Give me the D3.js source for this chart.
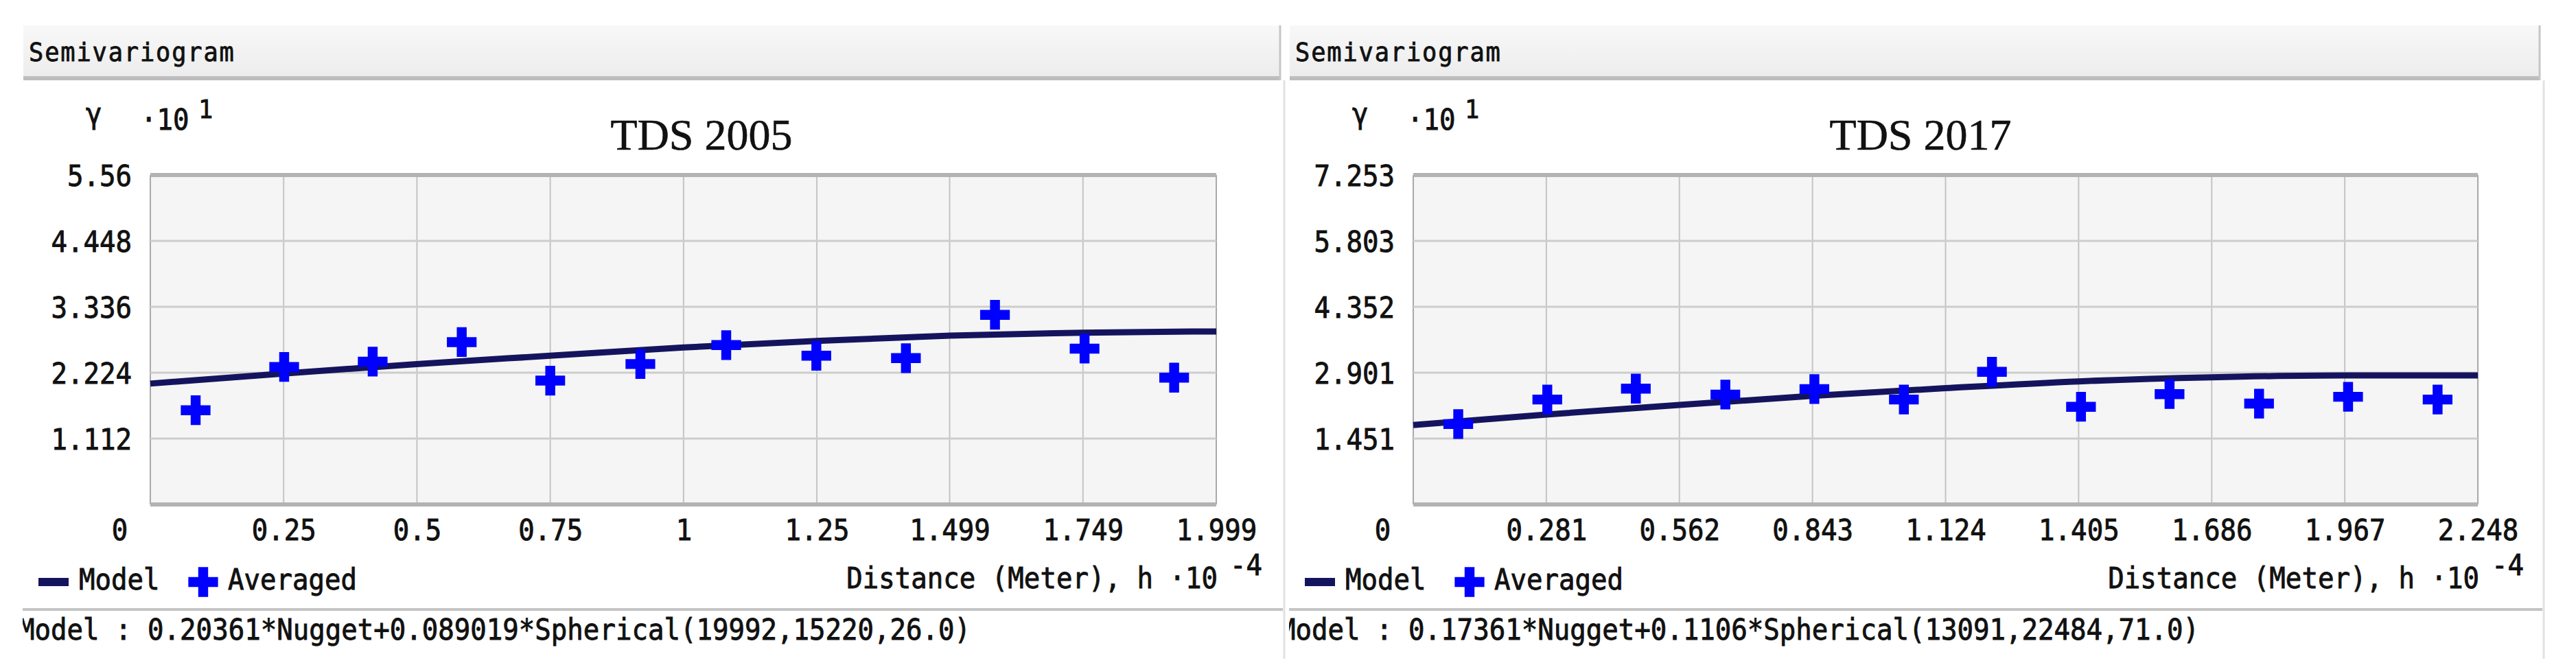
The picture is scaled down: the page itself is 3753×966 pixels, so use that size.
<!DOCTYPE html>
<html>
<head>
<meta charset="utf-8">
<script src="https://cdn.jsdelivr.net/npm/d3@7"></script>
<style>
  body { margin: 0; background: #fff; }
  svg { display: block; }
</style>
</head>
<body>
<div id="chart"></div>
<script>
const W = 3753, H = 966;
const mono = '"DejaVu Sans Mono", monospace';
const fontSize = 42, squeeze = 0.93; // tall narrow glyphs like the original bitmap font

// ---- data (distances in 10^4 m, gamma in 10^1) ----
const titles = ['TDS 2005', 'TDS 2017'];
const models = ['Model : 0.20361*Nugget+0.089019*Spherical(19992,15220,26.0)',
                'Model : 0.17361*Nugget+0.1106*Spherical(13091,22484,71.0)'];

const xTicks2005 = [0, 0.25, 0.5, 0.75, 1, 1.25, 1.499, 1.749, 1.999];
const yTicks2005 = [0, 1.112, 2.224, 3.336, 4.448, 5.56];
const lag2005 = [0.085, 0.251, 0.417, 0.584, 0.75, 0.919, 1.08, 1.249, 1.417, 1.584, 1.752, 1.92];
const avg2005 = [1.59, 2.32, 2.41, 2.74, 2.09, 2.37, 2.69, 2.51, 2.47, 3.2, 2.63, 2.14];
const modelH2005 = [0, 0.25, 0.5, 0.75, 1, 1.25, 1.5, 1.75, 1.999];
const model2005 = [2.04, 2.21, 2.37, 2.51, 2.65, 2.76, 2.85, 2.9, 2.92];

const xTicks2017 = [0, 0.281, 0.562, 0.843, 1.124, 1.405, 1.686, 1.967, 2.248];
const yTicks2017 = [0, 1.451, 2.901, 4.352, 5.803, 7.253];
const lag2017 = [0.095, 0.283, 0.47, 0.659, 0.847, 1.036, 1.222, 1.41, 1.597, 1.786, 1.974, 2.163];
const avg2017 = [1.77, 2.31, 2.55, 2.42, 2.54, 2.31, 2.92, 2.15, 2.43, 2.22, 2.37, 2.31];
const modelH2017 = [0, 0.281, 0.562, 0.843, 1.124, 1.405, 1.686, 1.967, 2.248];
const model2017 = [1.75, 1.98, 2.19, 2.39, 2.56, 2.71, 2.8, 2.84, 2.84];

// ---- layout of the two window panels ----
const plotTop = 255, plotBottom = 735;
const panels = [
  { x: 33, right: 1873, plotL: 219, plotR: 1772, titleX: 1022, footX: -6,
    title: titles[0], model: models[0], xTicks: xTicks2005, yTicks: yTicks2005,
    lag: lag2005, avg: avg2005, modelH: modelH2005, modelV: model2005 },
  { x: 1878, right: 3708, plotL: 2059, plotR: 3610, titleX: 2798, footX: -14,
    title: titles[1], model: models[1], xTicks: xTicks2017, yTicks: yTicks2017,
    lag: lag2017, avg: avg2017, modelH: modelH2017, modelV: model2017 }
];

const svg = d3.select('#chart').append('svg')
  .attr('width', W).attr('height', H)
  .attr('viewBox', '0 0 ' + W + ' ' + H);
svg.append('rect').attr('width', W).attr('height', H).attr('fill', '#fff');

const defs = svg.append('defs');
let grad = defs.append('linearGradient').attr('id', 'hdr')
  .attr('x1', 0).attr('y1', 0).attr('x2', 0).attr('y2', 1);
grad.append('stop').attr('offset', '0%').attr('stop-color', '#f8f8f8');
grad.append('stop').attr('offset', '100%').attr('stop-color', '#ececec');

// monospaced text, a little heavier than the plain face
function monoText(g, x, y, str, size) {
  return g.append('text')
    .attr('transform', 'translate(' + x + ',' + y + ') scale(' + squeeze + ',1)')
    .attr('font-family', mono)
    .attr('font-size', size || fontSize)
    .attr('fill', '#111')
    .attr('stroke', '#111')
    .attr('stroke-width', 0.9)
    .text(str);
}

function drawPanel(p, i) {
  defs.append('clipPath').attr('id', 'clip' + i)
    .append('rect').attr('x', p.x).attr('y', 0).attr('width', p.right - p.x).attr('height', H);
  const g = svg.append('g').attr('clip-path', 'url(#clip' + i + ')');

  // window frame: header bar and right border
  g.append('rect').attr('x', p.x + 1).attr('y', 37)
    .attr('width', p.right - p.x - 8).attr('height', 78)
    .attr('fill', 'url(#hdr)');
  g.append('line').attr('x1', p.x + 1).attr('x2', p.right - 7)
    .attr('y1', 114).attr('y2', 114)
    .attr('stroke', '#bdbdbd').attr('stroke-width', 6);
  g.append('line').attr('x1', p.right - 8).attr('x2', p.right - 8)
    .attr('y1', 37).attr('y2', 117)
    .attr('stroke', '#c6c6c6').attr('stroke-width', 3);
  g.append('line').attr('x1', p.right - 2).attr('x2', p.right - 2)
    .attr('y1', 117).attr('y2', 960)
    .attr('stroke', '#e2e2e2').attr('stroke-width', 3);
  monoText(g, p.x + 9, 89, 'Semivariogram', 38).attr('letter-spacing', 2);

  // title and y unit
  g.append('text')
    .attr('x', p.titleX).attr('y', 218)
    .attr('text-anchor', 'middle')
    .attr('font-family', '"Liberation Serif", serif')
    .attr('font-size', 64)
    .attr('fill', '#111')
    .attr('stroke', '#111')
    .attr('stroke-width', 0.6)
    .text(p.title);
  monoText(g, p.x + 92, 180, 'γ');
  monoText(g, p.x + 172, 189, '·10');
  monoText(g, p.x + 256, 172, '1', 38);

  const x = d3.scaleLinear().domain([0, d3.max(p.xTicks)]).range([p.plotL, p.plotR]);
  const y = d3.scaleLinear().domain([0, d3.max(p.yTicks)]).range([plotBottom, plotTop]);

  // plot area with grid
  g.append('rect').attr('x', p.plotL).attr('y', plotTop)
    .attr('width', p.plotR - p.plotL).attr('height', plotBottom - plotTop)
    .attr('fill', '#f5f5f5');
  g.append('g').selectAll('line').data(p.xTicks).join('line')
    .attr('x1', d => x(d)).attr('x2', d => x(d))
    .attr('y1', plotTop).attr('y2', plotBottom)
    .attr('stroke', (d, j) => (j === 0 || j === p.xTicks.length - 1) ? '#a9a9a9' : '#c4c4c4')
    .attr('stroke-width', 2);
  g.append('g').selectAll('line').data(p.yTicks).join('line')
    .attr('x1', p.plotL).attr('x2', p.plotR)
    .attr('y1', d => y(d)).attr('y2', d => y(d))
    .attr('stroke', (d, j) => (j === 0 || j === p.yTicks.length - 1) ? '#b3b3b3' : '#cdcdcd')
    .attr('stroke-width', (d, j) => (j === 0 || j === p.yTicks.length - 1) ? 6 : 3);

  // axes labels
  const yAxis = g.append('g').attr('transform', 'translate(' + p.plotL + ',0)')
    .call(d3.axisLeft(y).tickValues(p.yTicks.slice(1)).tickFormat(d => String(d))
      .tickSize(0).tickPadding(27 / squeeze));
  const xAxis = g.append('g').attr('transform', 'translate(0,' + plotBottom + ')')
    .call(d3.axisBottom(x).tickValues(p.xTicks).tickFormat(d => String(d))
      .tickSize(0).tickPadding(22));
  [yAxis, xAxis].forEach(a => {
    a.select('.domain').remove();
    a.selectAll('text')
      .attr('font-family', mono).attr('font-size', fontSize)
      .attr('fill', '#111').attr('stroke', '#111').attr('stroke-width', 0.9)
      .attr('transform', 'scale(' + squeeze + ',1)');
  });
  yAxis.selectAll('text').attr('dy', '0.36em');
  xAxis.selectAll('.tick').filter(d => d === 0).select('text').attr('dx', -45 / squeeze);

  // model curve and averaged points
  const line = d3.line().x(d => x(d[0])).y(d => y(d[1])).curve(d3.curveMonotoneX);
  g.append('path')
    .datum(d3.zip(p.modelH, p.modelV))
    .attr('d', line)
    .attr('fill', 'none')
    .attr('stroke', '#14145e')
    .attr('stroke-width', 9);
  const cross = d3.symbol(d3.symbolCross, 1040);
  g.append('g').selectAll('path').data(d3.zip(p.lag, p.avg)).join('path')
    .attr('d', cross)
    .attr('transform', d => 'translate(' + x(d[0]) + ',' + y(d[1]) + ')')
    .attr('fill', '#0000ff');

  // legend
  g.append('line').attr('x1', p.x + 23).attr('x2', p.x + 67)
    .attr('y1', 848).attr('y2', 848)
    .attr('stroke', '#14145e').attr('stroke-width', 12);
  monoText(g, p.x + 82, 859, 'Model');
  g.append('path').attr('d', cross)
    .attr('transform', 'translate(' + (p.x + 263) + ',848)')
    .attr('fill', '#0000ff');
  monoText(g, p.x + 299, 859, 'Averaged');

  // x axis title
  monoText(g, p.plotR + 2, 857, 'Distance (Meter), h ·10').attr('text-anchor', 'end');
  monoText(g, p.plotR + 20, 838, '-4');

  // footer
  g.append('line').attr('x1', p.x).attr('x2', p.right - 4)
    .attr('y1', 888).attr('y2', 888)
    .attr('stroke', '#c4c4c4').attr('stroke-width', 4);
  monoText(g, p.x + p.footX, 932, p.model);
}

panels.forEach(drawPanel);
</script>
</body>
</html>
